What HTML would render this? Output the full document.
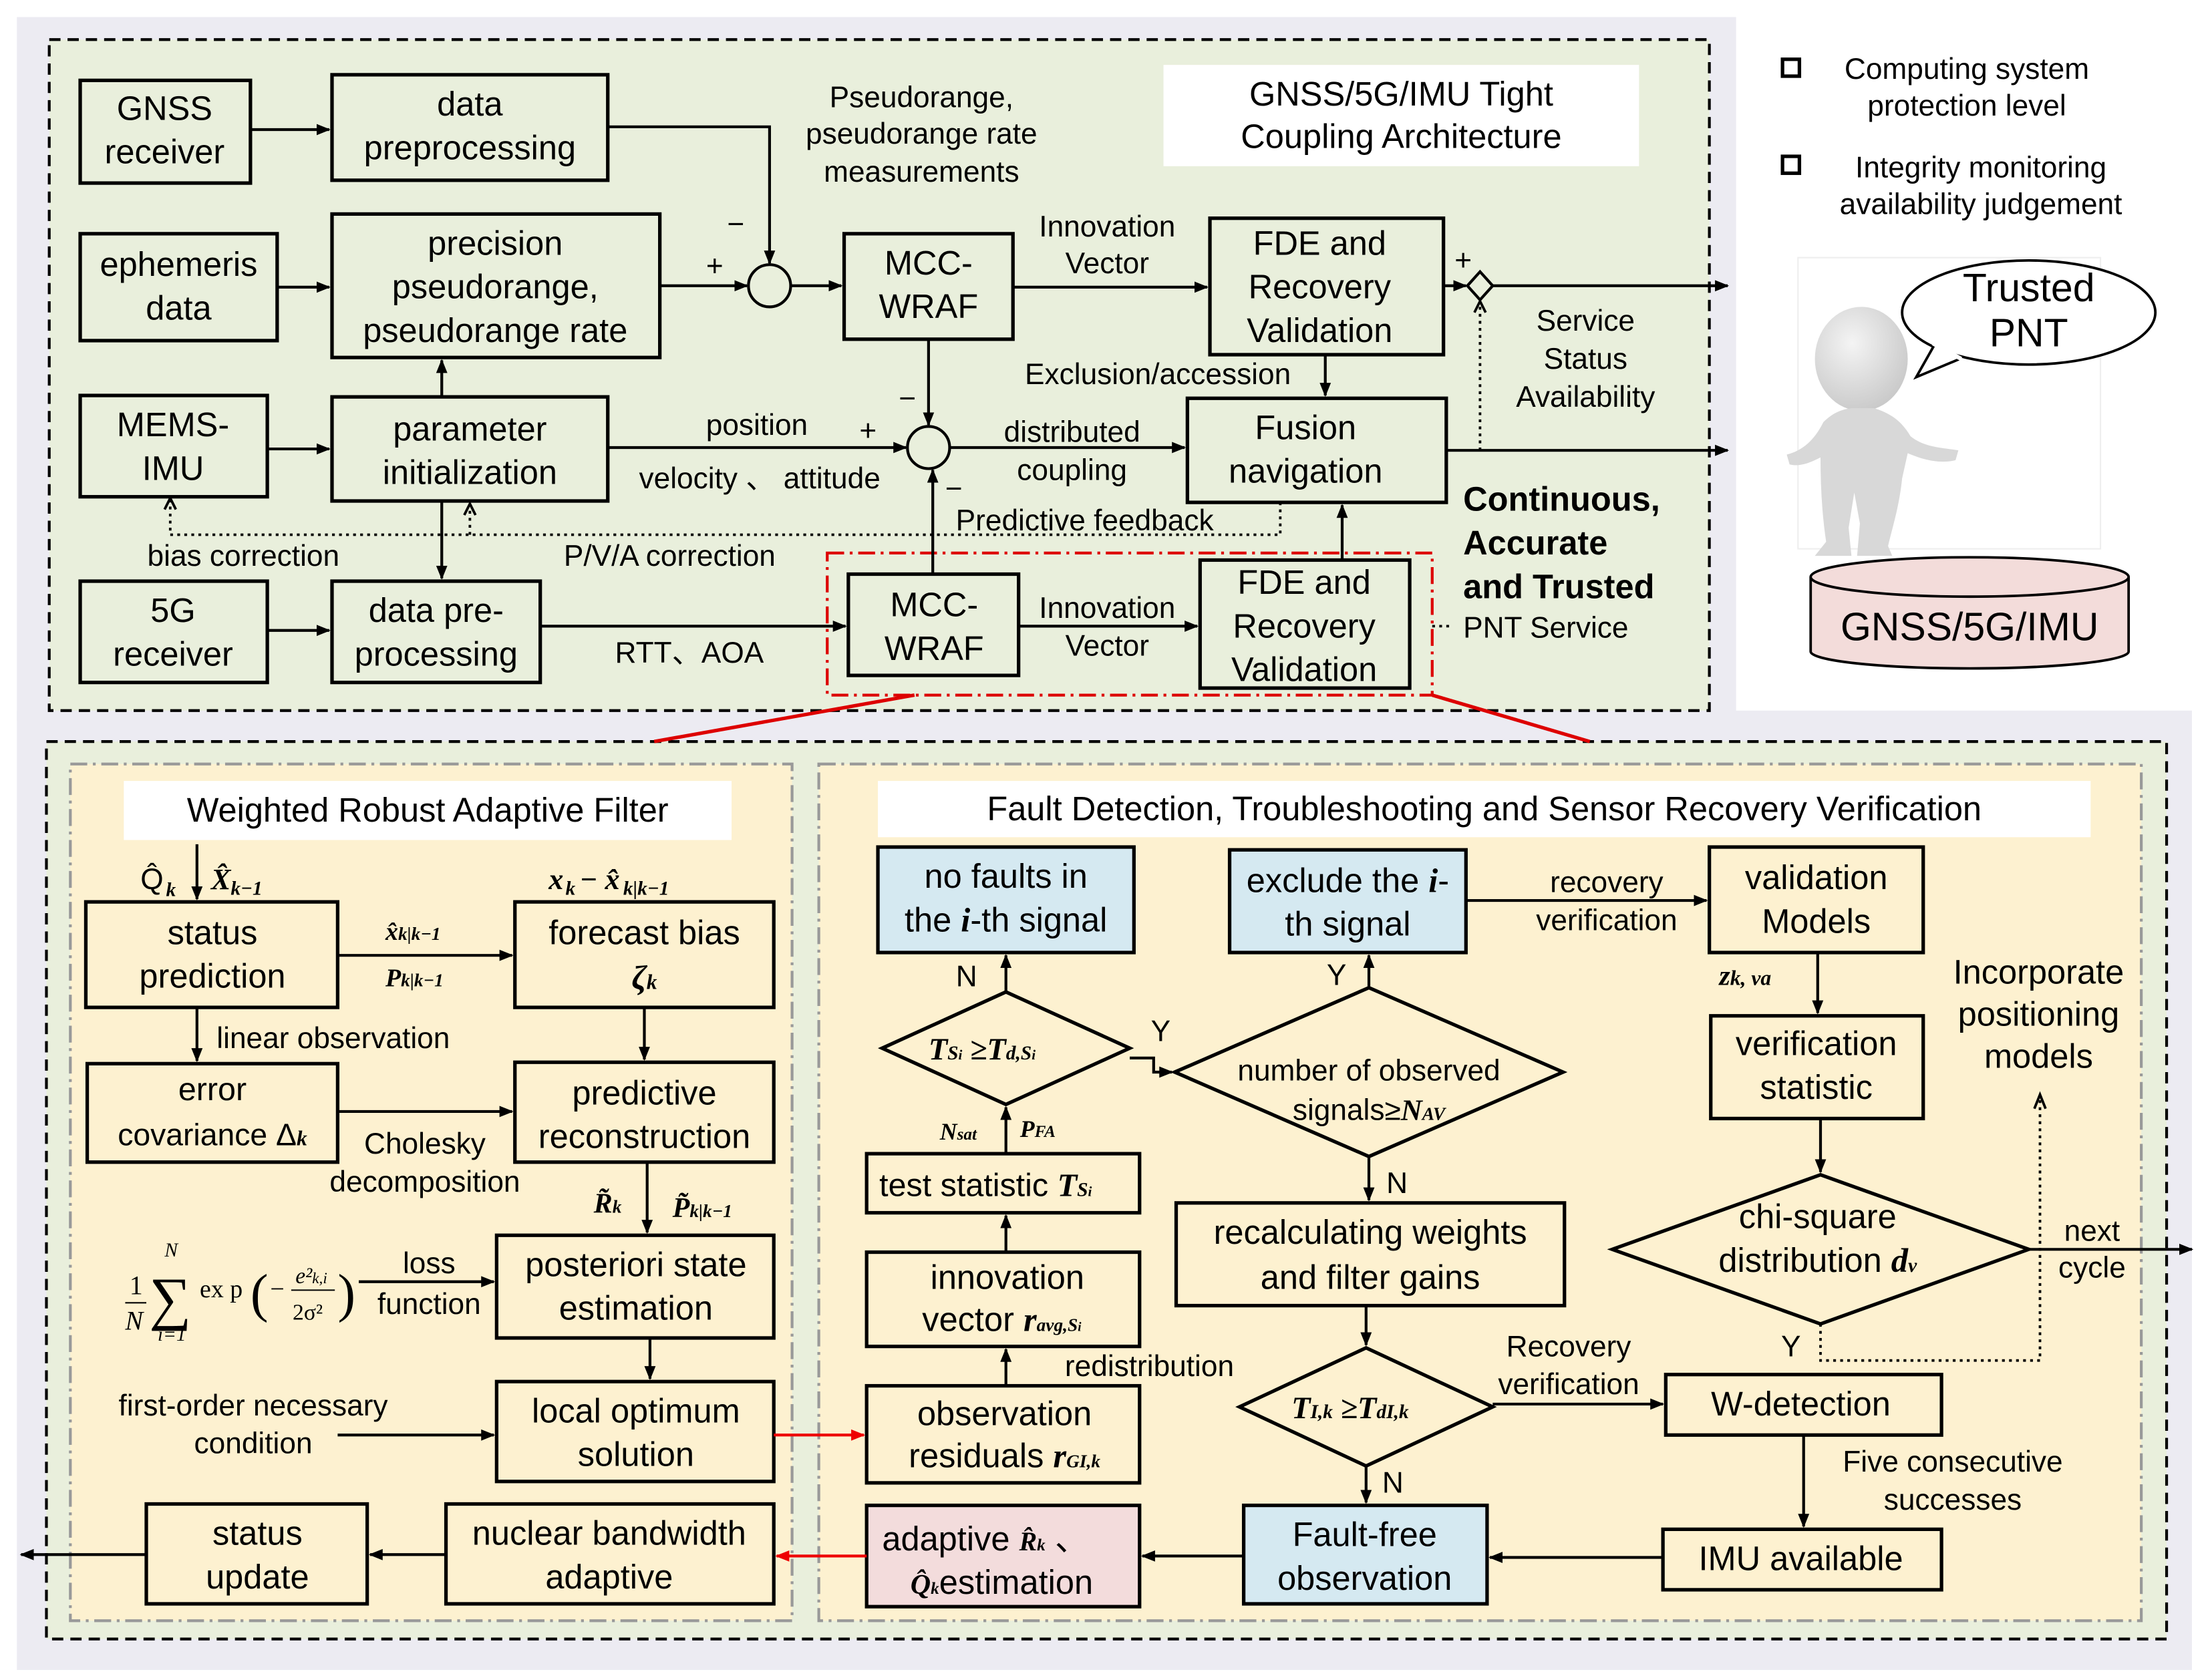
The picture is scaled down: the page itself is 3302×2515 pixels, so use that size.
<!DOCTYPE html>
<html><head><meta charset="utf-8"><style>
html,body{margin:0;padding:0;background:#fff}
svg{display:block}
text{font-family:"Liberation Sans",sans-serif;fill:#000}
.t{font-size:24px;text-anchor:middle}
.s{font-size:21px;text-anchor:middle}
.m{font-family:"Liberation Serif",serif;font-style:italic;font-weight:bold}
</style></head><body>
<svg width="3302" height="2515" viewBox="0 0 1568 1194" xmlns="http://www.w3.org/2000/svg">
<defs>
<marker id="a" markerWidth="10" markerHeight="10" refX="9" refY="5" orient="auto" markerUnits="userSpaceOnUse"><path d="M0,1 L10,5 L0,9 z" fill="#000"/></marker>
<marker id="r" markerWidth="10" markerHeight="10" refX="9" refY="5" orient="auto" markerUnits="userSpaceOnUse"><path d="M0,1 L10,5 L0,9 z" fill="#e00"/></marker>
<radialGradient id="g" cx="0.4" cy="0.35" r="0.7"><stop offset="0" stop-color="#f4f4f4"/><stop offset="1" stop-color="#c8c8c8"/></radialGradient>
</defs>
<rect x="12" y="12" width="1222" height="500" fill="#ecebf2"/>
<rect x="12" y="505" width="1546" height="682" fill="#ecebf2"/>
<rect x="35" y="28" width="1180" height="477" fill="#e9efdc" stroke="#000" stroke-width="2" stroke-dasharray="8,5"/>
<rect x="33" y="527" width="1507" height="638" fill="#e9efdc" stroke="#000" stroke-width="2" stroke-dasharray="8,5"/>
<rect x="50" y="543" width="513" height="609" fill="#fdf1d0" stroke="#999" stroke-width="2" stroke-dasharray="12,4,2,4"/>
<rect x="582" y="543" width="940" height="609" fill="#fdf1d0" stroke="#999" stroke-width="2" stroke-dasharray="12,4,2,4"/>

<g fill="none" stroke="#000" stroke-width="2.5">
<rect x="57" y="57" width="121" height="73"/>
<rect x="236" y="53" width="196" height="75"/>
<rect x="57" y="166" width="140" height="76"/>
<rect x="236" y="152" width="233" height="102"/>
<rect x="57" y="281" width="133" height="72"/>
<rect x="236" y="282" width="196" height="74"/>
<rect x="57" y="413" width="133" height="72"/>
<rect x="236" y="413" width="148" height="72"/>
<circle cx="547" cy="203" r="15" stroke-width="2"/>
<rect x="600" y="166" width="120" height="75"/>
<rect x="860" y="155" width="166" height="97"/>
<circle cx="660" cy="318" r="15" stroke-width="2"/>
<rect x="844" y="283" width="184" height="74"/>
<rect x="603" y="408" width="121" height="72"/>
<rect x="853" y="398" width="149" height="91"/>
<path d="M1052,193 L1061,203 L1052,213 L1043,203 Z" stroke-width="2"/>
</g>
<rect x="588" y="393" width="430" height="101" fill="none" stroke="#d00" stroke-width="2" stroke-dasharray="12,4,2,4"/>
<line x1="650" y1="494" x2="465" y2="527" stroke="#d00" stroke-width="2.5"/>
<line x1="1018" y1="494" x2="1130" y2="527" stroke="#d00" stroke-width="2.5"/>
<rect x="827" y="46" width="338" height="72" fill="#fff"/>

<g stroke="#000" stroke-width="2" fill="none" marker-end="url(#a)">
<line x1="178" y1="92" x2="234" y2="92"/>
<path d="M432,90 L547,90 L547,187"/>
<line x1="197" y1="204" x2="234" y2="204"/>
<line x1="469" y1="203" x2="531" y2="203"/>
<line x1="562" y1="203" x2="598" y2="203"/>
<line x1="720" y1="204" x2="858" y2="204"/>
<line x1="660" y1="241" x2="660" y2="302"/>
<line x1="1026" y1="203" x2="1042" y2="203"/>
<line x1="1061" y1="203" x2="1228" y2="203"/>
<line x1="942" y1="252" x2="942" y2="281"/>
<line x1="190" y1="319" x2="234" y2="319"/>
<line x1="432" y1="318" x2="644" y2="318"/>
<line x1="675" y1="318" x2="842" y2="318"/>
<line x1="1028" y1="320" x2="1228" y2="320"/>
<line x1="314" y1="282" x2="314" y2="256"/>
<line x1="314" y1="356" x2="314" y2="411"/>
<line x1="190" y1="448" x2="234" y2="448"/>
<path d="M384,445 L601,445"/>
<line x1="724" y1="445" x2="851" y2="445"/>
<line x1="954" y1="398" x2="954" y2="359"/>
<line x1="663" y1="408" x2="663" y2="334"/>
</g>
<g stroke="#000" stroke-width="1.8" fill="none" stroke-dasharray="2,3">
<path d="M910,357 L910,380 L121,380 L121,355"/>
<line x1="334" y1="380" x2="334" y2="360"/>
<line x1="1052" y1="320" x2="1052" y2="215"/>
<line x1="1018" y1="445" x2="1030" y2="445"/>
</g>
<path d="M117,362 L121,354 L125,362 M330,366 L334,358 L338,366 M1048,222 L1052,214 L1056,222" stroke="#000" stroke-width="1.8" fill="none"/>

<text class="t" x="117" y="85">GNSS</text><text class="t" x="117" y="116">receiver</text>
<text class="t" x="334" y="82">data</text><text class="t" x="334" y="113">preprocessing</text>
<text class="t" x="127" y="196">ephemeris</text><text class="t" x="127" y="227">data</text>
<text class="t" x="352" y="181">precision</text><text class="t" x="352" y="212">pseudorange,</text><text class="t" x="352" y="243">pseudorange rate</text>
<text class="t" x="123" y="310">MEMS-</text><text class="t" x="123" y="341">IMU</text>
<text class="t" x="334" y="313">parameter</text><text class="t" x="334" y="344">initialization</text>
<text class="t" x="123" y="442">5G</text><text class="t" x="123" y="473">receiver</text>
<text class="t" x="310" y="442">data pre-</text><text class="t" x="310" y="473">processing</text>
<text class="t" x="660" y="195">MCC-</text><text class="t" x="660" y="226">WRAF</text>
<text class="t" x="938" y="181">FDE and</text><text class="t" x="938" y="212">Recovery</text><text class="t" x="938" y="243">Validation</text>
<text class="t" x="928" y="312">Fusion</text><text class="t" x="928" y="343">navigation</text>
<text class="t" x="664" y="438">MCC-</text><text class="t" x="664" y="469">WRAF</text>
<text class="t" x="927" y="422">FDE and</text><text class="t" x="927" y="453">Recovery</text><text class="t" x="927" y="484">Validation</text>
<text class="t" x="996" y="75">GNSS/5G/IMU Tight</text><text class="t" x="996" y="105">Coupling Architecture</text>
<text class="s" x="655" y="76">Pseudorange,</text><text class="s" x="655" y="102">pseudorange rate</text><text class="s" x="655" y="129">measurements</text>
<text class="s" x="523" y="166">−</text><text class="s" x="508" y="196">+</text>
<text class="s" x="787" y="168">Innovation</text><text class="s" x="787" y="194">Vector</text>
<text class="s" x="1040" y="192">+</text>
<text class="s" x="1127" y="235">Service</text><text class="s" x="1127" y="262">Status</text><text class="s" x="1127" y="289">Availability</text>
<text class="s" x="823" y="273">Exclusion/accession</text>
<text class="s" x="538" y="309">position</text><text class="s" x="617" y="313">+</text>
<text class="s" x="645" y="290">−</text>
<text class="s" x="762" y="314">distributed</text><text class="s" x="762" y="341">coupling</text>
<text class="s" x="540" y="347">velocity 、 attitude</text><text class="s" x="678" y="354">−</text>
<text class="s" x="771" y="377">Predictive feedback</text>
<text class="s" x="173" y="402">bias correction</text><text class="s" x="476" y="402">P/V/A correction</text>
<text class="s" x="490" y="471">RTT、AOA</text>
<text class="s" x="787" y="439">Innovation</text><text class="s" x="787" y="466">Vector</text>
<text x="1040" y="363" style="font-size:24px;font-weight:bold">Continuous,</text>
<text x="1040" y="394" style="font-size:24px;font-weight:bold">Accurate</text>
<text x="1040" y="425" style="font-size:24px;font-weight:bold">and Trusted</text>
<text x="1040" y="453" style="font-size:21px">PNT Service</text>

<rect x="1267" y="42" width="12" height="12" fill="none" stroke="#000" stroke-width="2.5"/>
<text class="s" x="1398" y="56">Computing system</text><text class="s" x="1398" y="82">protection level</text>
<rect x="1267" y="111" width="12" height="12" fill="none" stroke="#000" stroke-width="2.5"/>
<text class="s" x="1408" y="126">Integrity monitoring</text><text class="s" x="1408" y="152">availability judgement</text>
<rect x="1278" y="183" width="215" height="207" fill="#fff" stroke="#eee"/>
<ellipse cx="1323" cy="255" rx="33" ry="37" fill="url(#g)"/>
<path d="M1316,290 L1332,290 C1345,294 1352,300 1358,310 C1368,318 1380,318 1392,320 L1390,327 C1378,330 1365,326 1356,322 L1352,340 C1350,360 1345,375 1342,388 L1345,395 L1320,395 L1322,372 L1318,350 L1314,375 L1316,395 L1290,395 L1298,385 C1295,365 1294,345 1294,325 C1288,328 1280,332 1272,330 L1270,323 C1282,320 1290,312 1296,300 C1302,294 1308,291 1316,290 Z" fill="#d8d8d8"/>
<ellipse cx="1442" cy="222" rx="90" ry="37" fill="#fff" stroke="#000" stroke-width="1.8"/>
<path d="M1375,245 L1362,268 L1393,255" fill="#fff" stroke="#000" stroke-width="1.8"/>
<path d="M1374,244 L1394,255" stroke="#fff" stroke-width="3"/>
<text x="1442" y="214" style="font-size:28px;text-anchor:middle">Trusted</text>
<text x="1442" y="246" style="font-size:28px;text-anchor:middle">PNT</text>
<path d="M1287,410 L1287,463 A113,12 0 0 0 1513,463 L1513,410" fill="#f3dcda" stroke="#000" stroke-width="1.8"/>
<ellipse cx="1400" cy="410" rx="113" ry="14" fill="#f3dcda" stroke="#000" stroke-width="1.8"/>
<text x="1400" y="455" style="font-size:28px;text-anchor:middle">GNSS/5G/IMU</text>

<rect x="88" y="555" width="432" height="42" fill="#fff"/>
<text class="t" x="304" y="584">Weighted Robust Adaptive Filter</text>
<g fill="none" stroke="#000" stroke-width="2.5">
<rect x="61" y="641" width="179" height="75"/>
<rect x="366" y="641" width="184" height="75"/>
<rect x="62" y="756" width="178" height="70"/>
<rect x="366" y="755" width="184" height="71"/>
<rect x="353" y="878" width="197" height="73"/>
<rect x="353" y="982" width="197" height="71"/>
<rect x="317" y="1069" width="233" height="71"/>
<rect x="104" y="1069" width="157" height="71"/>
</g>
<g stroke="#000" stroke-width="2" fill="none" marker-end="url(#a)">
<line x1="140" y1="600" x2="140" y2="639"/>
<line x1="240" y1="679" x2="364" y2="679"/>
<line x1="140" y1="716" x2="140" y2="754"/>
<line x1="458" y1="716" x2="458" y2="753"/>
<line x1="240" y1="790" x2="364" y2="790"/>
<line x1="460" y1="826" x2="460" y2="876"/>
<line x1="255" y1="911" x2="351" y2="911"/>
<line x1="462" y1="951" x2="462" y2="980"/>
<line x1="240" y1="1020" x2="351" y2="1020"/>
<line x1="317" y1="1105" x2="263" y2="1105"/>
<line x1="104" y1="1105" x2="15" y2="1105"/>
</g>
<text class="s" x="108" y="632">Q̂</text><text x="118" y="637" style="font-size:14px" class="m">k</text>
<text x="150" y="632" style="font-size:21px" class="m">X̂</text><text x="164" y="636" style="font-size:14px" class="m">k−1</text>
<text x="390" y="632" style="font-size:21px" class="m">x</text><text x="402" y="636" style="font-size:14px" class="m">k</text>
<text x="412" y="632" style="font-size:21px" class="m">− x̂</text><text x="443" y="636" style="font-size:14px" class="m">k|k−1</text>
<text class="t" x="151" y="671">status</text><text class="t" x="151" y="702">prediction</text>
<text class="t" x="458" y="671">forecast bias</text><text class="t m" x="458" y="703">ζ<tspan style="font-size:15px">k</tspan></text>
<text x="274" y="668" style="font-size:18px" class="m">x̂<tspan style="font-size:13px">k|k−1</tspan></text>
<text x="274" y="701" style="font-size:18px" class="m">P<tspan style="font-size:13px">k|k−1</tspan></text>
<text x="154" y="745" style="font-size:21px">linear observation</text>
<text x="151" y="782" style="font-size:23px;text-anchor:middle">error</text><text x="151" y="814" style="font-size:22px;text-anchor:middle">covariance Δ<tspan class="m" style="font-size:15px">k</tspan></text>
<text class="t" x="458" y="785">predictive</text><text class="t" x="458" y="816">reconstruction</text>
<text class="s" x="302" y="820">Cholesky</text><text class="s" x="302" y="847">decomposition</text>
<text x="422" y="862" style="font-size:20px" class="m">R̃<tspan style="font-size:13px">k</tspan></text>
<text x="478" y="865" style="font-size:20px" class="m">P̃<tspan style="font-size:13px">k|k−1</tspan></text>
<text x="92" y="920" style="font-family:'Liberation Serif',serif;font-size:19px">1</text>
<line x1="89" y1="926" x2="104" y2="926" stroke="#000"/>
<text x="89" y="945" style="font-family:'Liberation Serif',serif;font-size:19px;font-style:italic">N</text>
<text x="117" y="893" style="font-family:'Liberation Serif',serif;font-size:14px;font-style:italic">N</text>
<text x="106" y="937" style="font-family:'Liberation Serif',serif;font-size:42px">∑</text>
<text x="112" y="953" style="font-family:'Liberation Serif',serif;font-size:14px;font-style:italic">i=1</text>
<text x="142" y="922" style="font-family:'Liberation Serif',serif;font-size:18px">ex p</text>
<text x="178" y="932" style="font-family:'Liberation Serif',serif;font-size:38px">(</text>
<text x="192" y="922" style="font-family:'Liberation Serif',serif;font-size:18px">−</text>
<text x="210" y="912" style="font-family:'Liberation Serif',serif;font-size:16px;font-style:italic">e²<tspan style="font-size:11px">k,i</tspan></text>
<line x1="207" y1="917" x2="238" y2="917" stroke="#000"/>
<text x="208" y="938" style="font-family:'Liberation Serif',serif;font-size:16px">2σ²</text>
<text x="240" y="932" style="font-family:'Liberation Serif',serif;font-size:38px">)</text>
<text class="s" x="305" y="905">loss</text><text class="s" x="305" y="934">function</text>
<text class="t" x="452" y="907">posteriori state</text><text class="t" x="452" y="938">estimation</text>
<text class="s" x="180" y="1006">first-order necessary</text><text class="s" x="180" y="1033">condition</text>
<text class="t" x="452" y="1011">local optimum</text><text class="t" x="452" y="1042">solution</text>
<text class="t" x="433" y="1098">nuclear bandwidth</text><text class="t" x="433" y="1129">adaptive</text>
<text class="t" x="183" y="1098">status</text><text class="t" x="183" y="1129">update</text>

<rect x="624" y="555" width="862" height="40" fill="#fff"/>
<text class="t" x="1055" y="583">Fault Detection, Troubleshooting and Sensor Recovery Verification</text>
<g stroke="#000" stroke-width="2.5">
<rect x="624" y="602" width="182" height="75" fill="#d5e9f1"/>
<rect x="874" y="604" width="168" height="73" fill="#d5e9f1"/>
<rect x="1215" y="602" width="152" height="75" fill="none"/>
<path d="M627,745 L715,705 L803,745 L715,785 Z" fill="none"/>
<path d="M835,762 L973,702 L1111,762 L973,822 Z" fill="none"/>
<rect x="616" y="820" width="194" height="42" fill="none"/>
<rect x="616" y="890" width="194" height="67" fill="none"/>
<rect x="616" y="985" width="194" height="69" fill="none"/>
<rect x="616" y="1070" width="194" height="72" fill="#f3dcdc"/>
<rect x="884" y="1070" width="173" height="70" fill="#d5e9f1"/>
<rect x="1182" y="1087" width="198" height="43" fill="none"/>
<rect x="1184" y="977" width="196" height="43" fill="none"/>
<path d="M881,1000 L971,958 L1061,1000 L971,1042 Z" fill="none"/>
<rect x="836" y="855" width="276" height="73" fill="none"/>
<rect x="1216" y="722" width="151" height="73" fill="none"/>
<path d="M1146,888 L1294,835 L1442,888 L1294,941 Z" fill="none"/>
</g>
<g stroke="#000" stroke-width="2" fill="none" marker-end="url(#a)">
<line x1="715" y1="705" x2="715" y2="679"/>
<path d="M803,752 L820,752 L820,762 L833,762"/>
<line x1="973" y1="702" x2="973" y2="679"/>
<line x1="1042" y1="640" x2="1213" y2="640"/>
<line x1="1292" y1="677" x2="1292" y2="720"/>
<line x1="1294" y1="795" x2="1294" y2="833"/>
<line x1="973" y1="822" x2="973" y2="853"/>
<line x1="971" y1="928" x2="971" y2="956"/>
<line x1="1061" y1="998" x2="1182" y2="998"/>
<line x1="1282" y1="1020" x2="1282" y2="1085"/>
<line x1="1182" y1="1107" x2="1059" y2="1107"/>
<line x1="971" y1="1042" x2="971" y2="1068"/>
<line x1="884" y1="1106" x2="812" y2="1106"/>
<line x1="715" y1="820" x2="715" y2="787"/>
<line x1="715" y1="890" x2="715" y2="864"/>
<line x1="715" y1="985" x2="715" y2="959"/>
<line x1="1442" y1="888" x2="1558" y2="888"/>
</g>
<path d="M1294,941 L1294,967 L1450,967 L1450,780" stroke="#000" stroke-width="1.8" fill="none" stroke-dasharray="2,3"/>
<path d="M1446,788 L1450,778 L1454,788" stroke="#000" stroke-width="1.8" fill="none"/>
<line x1="550" y1="1020" x2="614" y2="1020" stroke="#e00" stroke-width="2" marker-end="url(#r)"/>
<line x1="616" y1="1106" x2="552" y2="1106" stroke="#e00" stroke-width="2" marker-end="url(#r)"/>

<text class="t" x="715" y="631">no faults in</text><text class="t" x="715" y="662">the <tspan class="m">i</tspan>-th signal</text>
<text class="t" x="958" y="634">exclude the <tspan class="m">i</tspan>-</text><text class="t" x="958" y="665">th signal</text>
<text class="t" x="1291" y="632">validation</text><text class="t" x="1291" y="663">Models</text>
<text class="s" x="1142" y="634">recovery</text><text class="s" x="1142" y="661">verification</text>
<text class="s" x="687" y="701">N</text><text class="s" x="950" y="700">Y</text><text class="s" x="825" y="740">Y</text>
<text x="660" y="753" style="font-size:22px" class="m">T<tspan style="font-size:14px">S<tspan style="font-size:10px">i</tspan></tspan> ≥T<tspan style="font-size:14px">d,S<tspan style="font-size:10px">i</tspan></tspan></text>
<text class="s" x="973" y="768">number of observed</text>
<text class="s" x="973" y="796">signals≥<tspan class="m">N<tspan style="font-size:13px">AV</tspan></tspan></text>
<text x="1222" y="700" style="font-size:20px" class="m">z<tspan style="font-size:15px">k, va</tspan></text>
<text class="t" x="1449" y="699">Incorporate</text><text class="t" x="1449" y="729">positioning</text><text class="t" x="1449" y="759">models</text>
<text class="t" x="1291" y="750">verification</text><text class="t" x="1291" y="781">statistic</text>
<text x="668" y="810" style="font-size:17px" class="m">N<tspan style="font-size:12px">sat</tspan></text>
<text x="725" y="808" style="font-size:17px" class="m">P<tspan style="font-size:12px">FA</tspan></text>
<text x="625" y="850" style="font-size:23px">test statistic <tspan class="m">T<tspan style="font-size:14px">S<tspan style="font-size:10px">i</tspan></tspan></tspan></text>
<text class="s" x="993" y="848">N</text>
<text class="t" x="974" y="884">recalculating weights</text><text class="t" x="974" y="916">and filter gains</text>
<text class="t" x="1292" y="873">chi-square</text><text class="t" x="1292" y="904">distribution <tspan class="m">d<tspan style="font-size:14px">v</tspan></tspan></text>
<text class="s" x="1487" y="882">next</text><text class="s" x="1487" y="908">cycle</text>
<text class="t" x="716" y="916">innovation</text><text class="t" x="712" y="946">vector <tspan class="m">r<tspan style="font-size:13px">avg,S<tspan style="font-size:9px">i</tspan></tspan></tspan></text>
<text class="s" x="817" y="978">redistribution</text>
<text class="s" x="1273" y="964">Y</text>
<text class="s" x="1115" y="964">Recovery</text><text class="s" x="1115" y="991">verification</text>
<text x="918" y="1008" style="font-size:22px" class="m">T<tspan style="font-size:14px">I,k</tspan> ≥T<tspan style="font-size:14px">dI,k</tspan></text>
<text class="t" x="1280" y="1006">W-detection</text>
<text class="t" x="714" y="1013">observation</text><text class="t" x="714" y="1043">residuals <tspan class="m">r<tspan style="font-size:13px">GI,k</tspan></tspan></text>
<text class="s" x="1388" y="1046">Five consecutive</text><text class="s" x="1388" y="1073">successes</text>
<text class="s" x="990" y="1061">N</text>
<text class="t" x="1280" y="1116">IMU available</text>
<text class="t" x="970" y="1099">Fault-free</text><text class="t" x="970" y="1130">observation</text>
<text x="627" y="1102" style="font-size:24px">adaptive  <tspan class="m" style="font-size:19px">R̂<tspan style="font-size:12px">k</tspan></tspan> 、</text>
<text class="t" x="712" y="1133"><tspan class="m" style="font-size:20px">Q̂<tspan style="font-size:12px">k</tspan></tspan>estimation</text>
</svg>
</body></html>
